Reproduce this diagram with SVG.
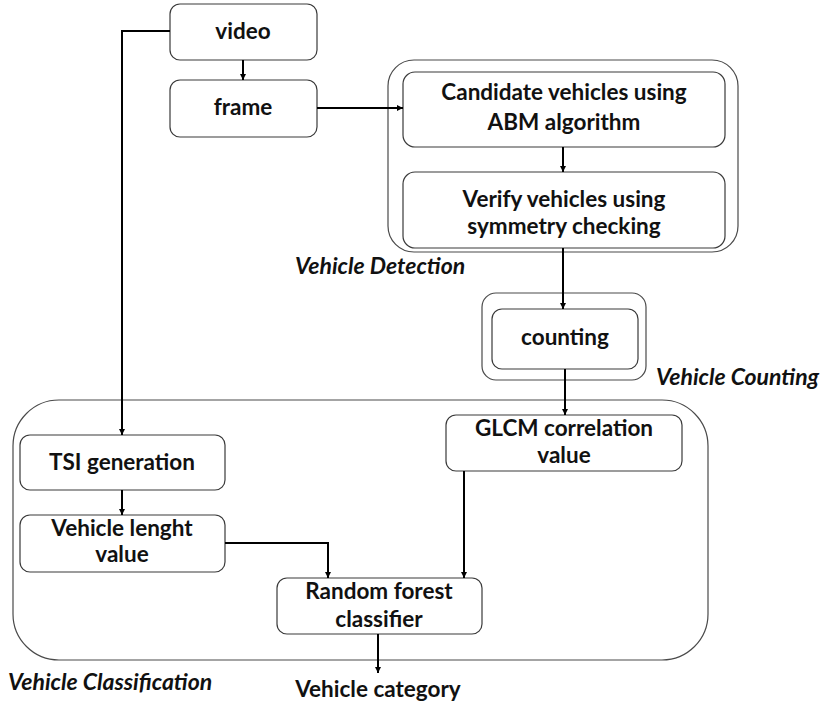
<svg xmlns="http://www.w3.org/2000/svg" width="825" height="706" viewBox="0 0 825 706">
  <style>
    .box { fill: #fff; stroke: #3a3a3a; stroke-width: 1.2; }
    .group { fill: none; stroke: #4a4a4a; stroke-width: 1.2; }
    .lbl { font-family: Lato, "Liberation Sans", sans-serif; font-weight: bold; font-size: 22.5px; fill: #111; text-anchor: middle; }
    .cap { font-family: Lato, "Liberation Sans", sans-serif; font-weight: bold; font-style: italic; font-size: 23px; fill: #111; }
    .wire { fill: none; stroke: #000; stroke-width: 2; }
  </style>
  <defs>
    <marker id="arrow" viewBox="0 0 10 10" refX="10" refY="5" markerWidth="7" markerHeight="6" orient="auto" markerUnits="userSpaceOnUse">
      <path d="M0,0 L10,5 L0,10 z" fill="#000"/>
    </marker>
  </defs>

  <!-- stage containers -->
  <g id="vehicle-detection">
    <rect class="group" x="388" y="60" width="350" height="192" rx="26"/>
    <text class="cap" x="295" y="274">Vehicle Detection</text>
  </g>
  <g id="vehicle-counting">
    <rect class="group" x="482" y="293" width="164" height="87" rx="14"/>
    <text class="cap" x="656" y="385">Vehicle Counting</text>
  </g>
  <g id="vehicle-classification">
    <rect class="group" x="13" y="400" width="695" height="260" rx="46"/>
    <text class="cap" x="8" y="690">Vehicle Classification</text>
  </g>

  <!-- process nodes -->
  <g id="video">
    <rect class="box" x="170" y="4" width="147" height="56" rx="10"/>
    <text class="lbl" x="243" y="39">video</text>
  </g>
  <g id="frame">
    <rect class="box" x="170" y="80" width="147" height="57" rx="10"/>
    <text class="lbl" x="243" y="115">frame</text>
  </g>
  <g id="candidate">
    <rect class="box" x="403" y="72" width="322" height="75" rx="12"/>
    <text class="lbl" x="564" y="100">Candidate vehicles using</text>
    <text class="lbl" x="564" y="130">ABM algorithm</text>
  </g>
  <g id="verify">
    <rect class="box" x="403" y="172" width="322" height="76" rx="12"/>
    <text class="lbl" x="564" y="207">Verify vehicles using</text>
    <text class="lbl" x="564" y="234">symmetry checking</text>
  </g>
  <g id="counting">
    <rect class="box" x="492" y="309" width="146" height="60" rx="10"/>
    <text class="lbl" x="565" y="345">counting</text>
  </g>
  <g id="tsi">
    <rect class="box" x="20" y="435" width="205" height="55" rx="10"/>
    <text class="lbl" x="122" y="470">TSI generation</text>
  </g>
  <g id="length">
    <rect class="box" x="20" y="515" width="205" height="57" rx="10"/>
    <text class="lbl" x="122" y="536">Vehicle lenght</text>
    <text class="lbl" x="122" y="562">value</text>
  </g>
  <g id="glcm">
    <rect class="box" x="446" y="415" width="236" height="56" rx="10"/>
    <text class="lbl" x="564" y="436">GLCM correlation</text>
    <text class="lbl" x="564" y="463">value</text>
  </g>
  <g id="forest">
    <rect class="box" x="277" y="578" width="205" height="56" rx="10"/>
    <text class="lbl" x="379" y="599">Random forest</text>
    <text class="lbl" x="379" y="627">classifier</text>
  </g>
  <g id="category">
    <text class="lbl" x="378" y="697">Vehicle category</text>
  </g>

  <!-- connectors -->
  <g id="connectors">
    <path class="wire" d="M243,60 V80" marker-end="url(#arrow)"/>
    <path class="wire" d="M170,31 H122 V435" marker-end="url(#arrow)"/>
    <path class="wire" d="M317,108 H403" marker-end="url(#arrow)"/>
    <path class="wire" d="M563,147 V172" marker-end="url(#arrow)"/>
    <path class="wire" d="M563,248 V309" marker-end="url(#arrow)"/>
    <path class="wire" d="M565,369 V415" marker-end="url(#arrow)"/>
    <path class="wire" d="M122,490 V515" marker-end="url(#arrow)"/>
    <path class="wire" d="M225,543 H328 V578" marker-end="url(#arrow)"/>
    <path class="wire" d="M464,471 V578" marker-end="url(#arrow)"/>
    <path class="wire" d="M378,634 V673" marker-end="url(#arrow)"/>
  </g>
</svg>
